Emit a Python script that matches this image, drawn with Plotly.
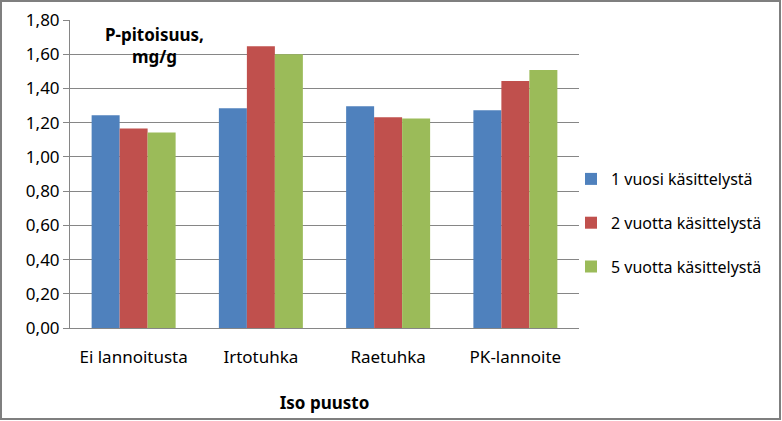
import plotly.graph_objects as go

categories = ["Ei lannoitusta", "Irtotuhka", "Raetuhka", "PK-lannoite"]
series_names = ["1 vuosi käsittelystä", "2 vuotta käsittelystä", "5 vuotta käsittelystä"]
vuosi1 = [1.243, 1.284, 1.296, 1.272]
vuotta2 = [1.166, 1.647, 1.231, 1.443]
vuotta5 = [1.143, 1.600, 1.225, 1.508]
colors = ["#4F81BD", "#C0504D", "#9BBB59"]
y_ticks = [0, 0.2, 0.4, 0.6, 0.8, 1.0, 1.2, 1.4, 1.6, 1.8]

W, H = 782, 421
L, R, T, B = 70, 203, 20, 93
pw, ph = W - L - R, H - T - B

font = "Noto Sans, Open Sans, sans-serif"

fig = go.Figure()
for i, (name, vals) in enumerate(zip(series_names, [vuosi1, vuotta2, vuotta5])):
    fig.add_trace(go.Bar(x=categories, y=vals, name=name,
                         marker=dict(color=colors[i], line=dict(width=0)),
                         legendgroup=str(i)))

fig.update_layout(
    width=W, height=H,
    margin=dict(l=L, r=R, t=T, b=B, autoexpand=False),
    paper_bgcolor="white", plot_bgcolor="white",
    separators=", ",
    barmode="group", bargap=0.34, bargroupgap=0,
    font=dict(family=font, size=17, color="black"),
    showlegend=True,
    legend=dict(x=(571 - L) / pw, y=(328 - 162) / ph, xanchor="left", yanchor="top",
                font=dict(size=16), tracegroupgap=20, itemwidth=30,
                bgcolor="rgba(0,0,0,0)"),
    xaxis=dict(showline=True, linecolor="#868686", linewidth=1, ticks="",
               ticklabelstandoff=14,
               title=dict(text="<b>Iso puusto</b>", standoff=29,
                          font=dict(size=17)),
               tickfont=dict(size=17)),
    yaxis=dict(range=[0, 1.8], tickvals=y_ticks, tickformat=".2f",
               showgrid=True, gridcolor="#868686", gridwidth=1,
               showline=True, linecolor="#868686", linewidth=1,
               ticks="outside", ticklen=6, tickcolor="#868686",
               zeroline=False, tickfont=dict(size=17)),
    annotations=[dict(text="<b>P-pitoisuus,<br>mg/g</b>", xref="paper", yref="paper",
                      x=(154 - L) / pw, y=(328 - 45) / ph, xanchor="center",
                      yanchor="middle", showarrow=False,
                      font=dict(size=17), align="center")],
    shapes=[dict(type="rect", xref="paper", yref="paper",
                 x0=(1 - L) / pw, x1=(780 - L) / pw,
                 y0=(328 - 419) / ph, y1=(328 - 1) / ph,
                 line=dict(color="#7F7F7F", width=2))],
)

fig.write_html("out.html", config={"displayModeBar": False},
               post_script="document.body.style.margin='0';")
